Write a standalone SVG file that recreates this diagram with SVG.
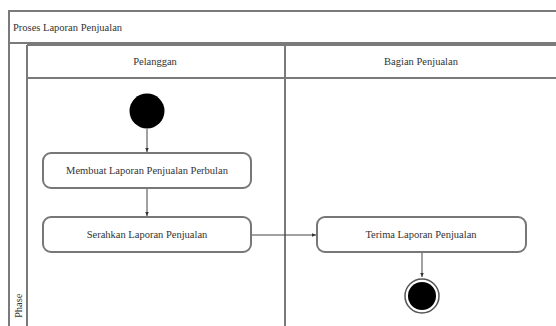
<svg xmlns="http://www.w3.org/2000/svg" width="556" height="326" viewBox="0 0 556 326">
  <style>
    .frame { fill: none; stroke: #7a7a7a; stroke-width: 2; }
    .lbl { font-family: "Liberation Serif", "Times New Roman", serif; font-size: 10.5px; fill: #333; }
    .act rect { fill: #fff; stroke: #777; stroke-width: 2; }
    .act text { text-anchor: middle; }
    .edge { fill: none; stroke: #444; stroke-width: 1; marker-end: url(#arrow); }
  </style>
  <defs>
    <marker id="arrow" viewBox="0 0 8 8" refX="7" refY="4" markerWidth="5" markerHeight="5" orient="auto">
      <path d="M0,1 L7,4 L0,7 z" fill="#333"/>
    </marker>
  </defs>
  <rect width="556" height="326" fill="#fff"/>

  <!-- frame with title -->
  <g id="frame">
    <path class="frame" d="M560,11 H9 V330 M9,43 H560"/>
    <text class="lbl" x="13" y="31">Proses Laporan Penjualan</text>
  </g>

  <!-- phase strip and lanes -->
  <g id="lanes">
    <path class="frame" d="M27,45 V330 M27,45 H560 M27,78 H560 M285,45 V330"/>
    <text class="lbl" x="155" y="65" text-anchor="middle">Pelanggan</text>
    <text class="lbl" x="421" y="65" text-anchor="middle">Bagian Penjualan</text>
    <text class="lbl" x="22" y="318" transform="rotate(-90 22 318)" font-size="9.5">Phase</text>
  </g>

  <!-- connectors -->
  <g id="connectors">
    <line class="edge" x1="147" y1="129" x2="147" y2="152"/>
    <line class="edge" x1="147" y1="189" x2="147" y2="216"/>
    <line class="edge" x1="252" y1="235" x2="316" y2="235"/>
    <line class="edge" x1="422" y1="253" x2="422" y2="277"/>
  </g>

  <g id="start">
    <circle cx="147" cy="111" r="17.5" fill="#000"/>
  </g>

  <g id="buat" class="act">
    <rect x="43" y="153" width="208" height="35" rx="8"/>
    <text class="lbl" x="147" y="174">Membuat Laporan Penjualan Perbulan</text>
  </g>

  <g id="serahkan" class="act">
    <rect x="43" y="217" width="208" height="35" rx="8"/>
    <text class="lbl" x="147" y="238">Serahkan Laporan Penjualan</text>
  </g>

  <g id="terima" class="act">
    <rect x="317" y="217" width="209" height="35" rx="8"/>
    <text class="lbl" x="421" y="238">Terima Laporan Penjualan</text>
  </g>

  <g id="end">
    <circle cx="422" cy="296" r="17" fill="#fff" stroke="#555" stroke-width="1.5"/>
    <circle cx="422" cy="296" r="14" fill="#000"/>
  </g>
</svg>
